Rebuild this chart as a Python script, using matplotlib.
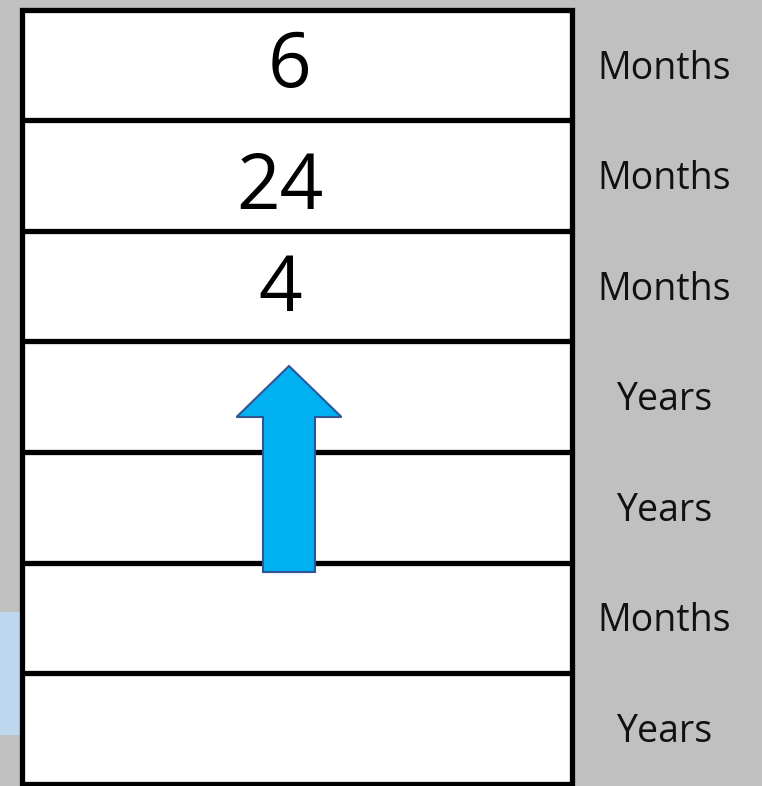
import matplotlib
matplotlib.use("Agg")
import matplotlib.pyplot as plt
from matplotlib.patches import Rectangle, Polygon

values = ["6", "24", "4", "", "", "", ""]
units = ["Months", "Months", "Months", "Years", "Years", "Months", "Years"]
value_x = [289, 280, 280, 280, 280, 280, 280]
value_dy = [0.51, 0.62, 0.545, 0.5, 0.5, 0.5, 0.5]

W, H = 762, 786
fig = plt.figure(figsize=(W / 100, H / 100), dpi=100)
fig.patch.set_facecolor("#c0c0c0")
ax = fig.add_axes([0, 0, 1, 1])
ax.set_facecolor("#c0c0c0")
top, step = 10.0, 110.5
ax.set_xlim(0, W)
ax.set_ylim((H - top) / step, -top / step)
ax.axis("off")

n = len(values)
left, right = 21.5, 572
# light blue tab on left
ax.add_patch(Rectangle((0, (612 - top) / step), 20, (735 - 612) / step,
                       facecolor="#bdd7ee", edgecolor="none", zorder=1))
# white table
ax.add_patch(Rectangle((left, 0), right - left, n, facecolor="white",
                       edgecolor="black", linewidth=3.8, zorder=2))
for k in range(1, n):
    ax.plot([left, right], [k, k], color="black", linewidth=3.8, zorder=3,
            solid_capstyle="butt")

for i, (v, u) in enumerate(zip(values, units)):
    if v:
        ax.text(value_x[i], i + value_dy[i], v, ha="center", va="center",
                fontsize=55, family="Open Sans", color="black", zorder=4)
    ax.text(664.5, i + 0.53, u, ha="center", va="center", fontsize=27,
            family="Open Sans", color="#111111", zorder=4)

# up arrow
cx, sw, hw = 289, 26, 52.5
y_tail, y_base, y_tip = 5.086, (417 - top) / step, (366 - top) / step
pts = [(cx - sw, y_tail), (cx - sw, y_base), (cx - hw, y_base), (cx, y_tip),
       (cx + hw, y_base), (cx + sw, y_base), (cx + sw, y_tail)]
ax.add_patch(Polygon(pts, closed=True, facecolor="#00b0f0",
                     edgecolor="#2f5597", linewidth=1.5, zorder=5))

fig.savefig("out.png", dpi=100, facecolor=fig.get_facecolor())
